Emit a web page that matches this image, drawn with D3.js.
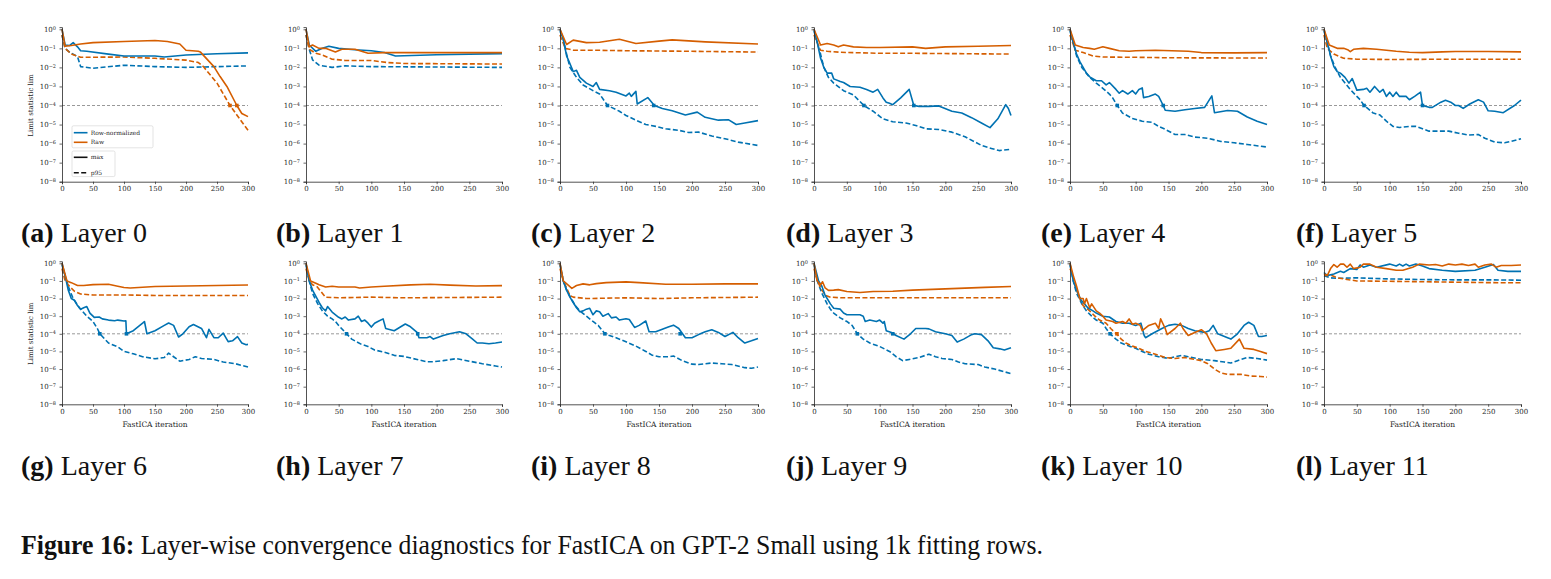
<!DOCTYPE html>
<html>
<head>
<meta charset="utf-8">
<script src="https://cdn.jsdelivr.net/npm/d3@7"></script>
<style>
  body { margin: 0; background: #fff; }
  svg { display: block; }
</style>
</head>
<body>
<svg id="fig" width="1551" height="579"></svg>
<script>
// ---- data ----
var layers = [0, 1, 2, 3, 4, 5, 6, 7, 8, 9, 10, 11];
var panelLetters = ["a", "b", "c", "d", "e", "f", "g", "h", "i", "j", "k", "l"];
var xTicks = [0, 50, 100, 150, 200, 250, 300];
var yTicks = [1, 1e-1, 1e-2, 1e-3, 1e-4, 1e-5, 1e-6, 1e-7, 1e-8];
var threshold = 1e-4;
var seriesNames = ["Row-normalized", "Raw"];
var statNames = ["max", "p95"];

// row-normalized, max statistic  [iteration, value]
var rowMax = [
  [[0,1],[5,0.15],[12,0.14],[18,0.2],[25,0.12],[30,0.075],[40,0.07],[75,0.05],[100,0.04],[150,0.04],[165,0.035],[200,0.045],[250,0.052],[300,0.058]],
  [[0,1],[5,0.15],[15,0.07],[25,0.1],[35,0.13],[50,0.1],[75,0.085],[100,0.075],[120,0.06],[137,0.04],[200,0.046],[300,0.053]],
  [[0,1],[5,0.3],[10,0.04],[15,0.016],[20,0.006],[25,0.007],[30,0.003],[40,0.0015],[50,0.001],[55,0.0016],[60,0.0007],[75,0.0006],[85,0.0005],[100,0.00032],[105,0.00045],[108,0.0003],[115,0.00055],[117,0.00012],[133,0.00026],[143,0.0001],[155,0.00007],[170,0.000053],[190,0.000032],[208,0.000045],[220,0.000024],[240,0.000017],[255,0.000018],[267,0.00001],[280,0.000012],[300,0.000016]],
  [[0,1],[5,0.2],[10,0.03],[12,0.02],[15,0.01],[20,0.005],[27,0.005],[30,0.0025],[40,0.0018],[45,0.0016],[55,0.001],[70,0.0009],[80,0.0007],[90,0.0005],[97,0.0007],[105,0.00025],[110,0.00015],[115,0.00013],[120,0.00011],[132,0.00025],[145,0.0007],[152,0.0001],[160,0.00009],[175,0.00009],[190,0.000095],[210,0.00005],[225,0.00004],[240,0.000023],[255,0.000012],[268,0.0000069],[280,0.00002],[292,0.00011],[296,0.00007],[300,0.00003]],
  [[0,1],[5,0.2],[10,0.05],[15,0.02],[20,0.01],[25,0.005],[30,0.0032],[40,0.002],[48,0.002],[55,0.0012],[60,0.0016],[70,0.0007],[75,0.00044],[80,0.0006],[88,0.0004],[95,0.0006],[100,0.0004],[105,0.0007],[110,0.00084],[112,0.00026],[120,0.0003],[130,0.0004],[135,0.0003],[142,0.0001],[145,0.000056],[160,0.00005],[175,0.00006],[190,0.00007],[205,0.00008],[216,0.00032],[220,0.000042],[240,0.000055],[255,0.00005],[270,0.000025],[285,0.000015],[300,0.00001]],
  [[0,1],[5,0.2],[10,0.04],[15,0.011],[20,0.006],[25,0.005],[32,0.003],[38,0.0015],[43,0.0026],[50,0.00064],[60,0.0007],[65,0.0008],[70,0.0005],[77,0.001],[85,0.0005],[90,0.0007],[95,0.0003],[100,0.0005],[105,0.0003],[110,0.0005],[115,0.0003],[125,0.0003],[130,0.0002],[138,0.0003],[147,0.0005],[150,0.0001],[160,0.00008],[165,0.00008],[178,0.00015],[185,0.00019],[193,0.00015],[200,0.0001],[205,0.0001],[212,0.00007],[222,0.00012],[235,0.0002],[243,0.00015],[250,0.000053],[260,0.00005],[273,0.000042],[290,0.0001],[300,0.00019]],
  [[0,1],[5,0.2],[10,0.031],[15,0.01],[20,0.008],[25,0.004],[30,0.0025],[35,0.003],[40,0.0035],[45,0.0015],[52,0.00086],[60,0.0009],[65,0.0007],[75,0.0006],[85,0.00055],[90,0.0006],[100,0.00053],[103,0.00055],[104,0.0001],[115,0.00015],[130,0.0004],[133,0.0005],[137,0.0001],[150,0.00015],[165,0.0003],[172,0.00041],[180,0.0003],[188,0.000066],[195,0.0001],[205,0.00025],[212,0.00034],[225,0.0002],[233,0.00006],[237,0.00018],[245,0.00006],[252,0.00006],[260,0.00011],[268,0.000036],[275,0.00004],[283,0.000069],[290,0.00003],[297,0.000024],[300,0.000025]],
  [[0,1],[5,0.1],[10,0.03],[17,0.01],[20,0.006],[25,0.003],[30,0.002],[33,0.0035],[40,0.0017],[50,0.00086],[55,0.0007],[60,0.0009],[65,0.0006],[75,0.0007],[80,0.001],[85,0.0005],[90,0.0006],[95,0.0004],[100,0.00024],[105,0.0004],[110,0.0005],[118,0.0007],[122,0.0002],[135,0.00015],[145,0.00025],[152,0.00036],[160,0.00025],[170,0.00012],[173,0.00006],[185,0.00006],[190,0.00007],[195,0.00005],[210,0.00008],[220,0.0001],[235,0.00013],[245,0.0001],[255,0.00005],[262,0.00003],[270,0.00003],[280,0.000027],[290,0.00003],[300,0.000034]],
  [[0,1],[5,0.1],[10,0.03],[15,0.012],[20,0.006],[25,0.003],[30,0.0018],[35,0.002],[40,0.0025],[45,0.0028],[50,0.0012],[55,0.002],[60,0.0018],[65,0.001],[73,0.0014],[78,0.0008],[85,0.0009],[90,0.0006],[100,0.00072],[105,0.00065],[113,0.00023],[120,0.0003],[130,0.00053],[135,0.00013],[145,0.00013],[155,0.00018],[165,0.00025],[172,0.00031],[180,0.0002],[190,0.00006],[200,0.00006],[210,0.00009],[220,0.00013],[230,0.00017],[240,0.00012],[250,0.00007],[262,0.00012],[270,0.00006],[280,0.00003],[290,0.00004],[300,0.000055]],
  [[0,1],[7,0.1],[12,0.05],[17,0.015],[20,0.01],[25,0.005],[30,0.0028],[40,0.0025],[45,0.0015],[50,0.0012],[70,0.0012],[75,0.001],[78,0.0005],[85,0.0006],[95,0.0005],[100,0.0006],[105,0.0004],[107,0.0005],[110,0.00015],[118,0.00012],[125,0.00008],[137,0.00005],[147,0.0001],[155,0.0002],[170,0.0002],[175,0.00019],[185,0.00013],[200,0.0001],[210,0.00008],[218,0.000034],[228,0.00005],[240,0.00009],[245,0.0001],[255,0.00009],[265,0.00004],[273,0.000016],[283,0.000014],[290,0.000012],[300,0.000016]],
  [[0,1],[5,0.1],[12,0.02],[17,0.008],[22,0.005],[27,0.003],[35,0.002],[40,0.0015],[50,0.001],[60,0.0009],[70,0.0005],[80,0.0004],[90,0.0004],[100,0.0003],[108,0.0004],[113,0.00008],[115,0.00006],[125,0.0001],[140,0.0002],[150,0.0003],[160,0.00035],[170,0.0003],[180,0.0002],[190,0.00015],[205,0.00012],[212,0.00015],[218,0.0003],[225,0.0001],[240,0.00006],[245,0.00005],[255,0.0001],[265,0.0003],[272,0.00045],[280,0.0003],[287,0.00007],[292,0.00007],[300,0.00008]],
  [[0,0.3],[5,0.2],[15,0.25],[25,0.35],[30,0.3],[40,0.5],[50,0.45],[55,0.8],[60,0.6],[70,0.8],[80,0.6],[100,0.9],[110,0.7],[115,0.9],[120,0.7],[125,0.9],[130,0.7],[140,0.9],[150,0.7],[160,0.5],[180,0.4],[200,0.35],[230,0.4],[245,0.6],[258,0.85],[265,0.4],[280,0.35],[300,0.35]]
];

// row-normalized, p95 statistic
var rowP95 = [
  [[0,0.5],[5,0.1],[13,0.06],[25,0.037],[30,0.011],[50,0.009],[100,0.013],[150,0.011],[200,0.01],[300,0.012]],
  [[0,0.5],[5,0.09],[10,0.025],[20,0.013],[40,0.01],[60,0.012],[100,0.011],[300,0.01]],
  [[0,0.8],[5,0.3],[10,0.05],[15,0.01],[25,0.003],[35,0.0012],[50,0.0006],[60,0.0004],[72,0.0001],[90,0.00005],[100,0.00003],[115,0.000017],[130,0.00001],[145,0.000008],[160,0.000006],[180,0.000005],[195,0.0000038],[210,0.000004],[230,0.0000025],[250,0.0000018],[270,0.0000012],[300,0.0000008]],
  [[0,0.8],[5,0.2],[10,0.05],[15,0.01],[22,0.003],[30,0.0015],[45,0.0006],[60,0.00036],[76,0.0001],[90,0.00005],[105,0.00002],[120,0.000014],[140,0.000012],[155,0.000009],[170,0.000006],[190,0.0000055],[210,0.000004],[230,0.0000023],[255,0.0000008],[270,0.00000056],[282,0.00000043],[300,0.0000005]],
  [[0,0.8],[5,0.2],[10,0.04],[18,0.01],[30,0.003],[40,0.0015],[50,0.0008],[60,0.0004],[65,0.00025],[72,0.0001],[80,0.00004],[95,0.000021],[110,0.000015],[125,0.000013],[135,0.000008],[145,0.0000056],[160,0.000003],[175,0.000003],[190,0.0000022],[210,0.0000019],[230,0.0000013],[250,0.0000011],[270,0.0000009],[300,0.00000066]],
  [[0,0.8],[5,0.2],[10,0.04],[17,0.01],[25,0.003],[32,0.0015],[40,0.0007],[50,0.0003],[55,0.0002],[61,0.0001],[75,0.00004],[85,0.000032],[95,0.000015],[105,0.000008],[115,0.000007],[130,0.000008],[140,0.000008],[150,0.000006],[160,0.0000045],[180,0.0000045],[190,0.0000045],[205,0.0000035],[220,0.0000028],[235,0.000003],[245,0.0000019],[260,0.0000012],[275,0.0000011],[285,0.0000013],[300,0.0000018]],
  [[0,0.8],[5,0.2],[10,0.05],[18,0.01],[28,0.003],[40,0.001],[50,0.0005],[57,0.0002],[61,0.0001],[75,0.00003],[90,0.000018],[100,0.00001],[115,0.0000073],[130,0.000005],[150,0.0000038],[165,0.0000045],[172,0.000008],[180,0.000005],[190,0.0000028],[205,0.0000035],[215,0.000005],[225,0.000004],[245,0.0000035],[260,0.0000025],[280,0.000002],[300,0.0000013]],
  [[0,0.8],[5,0.1],[10,0.02],[18,0.005],[25,0.002],[33,0.001],[40,0.0007],[45,0.0005],[50,0.0003],[62,0.0001],[70,0.00005],[85,0.000025],[95,0.000019],[105,0.000012],[120,0.000009],[135,0.000006],[150,0.0000052],[170,0.0000035],[185,0.0000026],[195,0.0000026],[210,0.000003],[230,0.0000039],[250,0.0000028],[270,0.000002],[290,0.0000015],[300,0.0000013]],
  [[0,0.8],[5,0.1],[10,0.03],[17,0.01],[23,0.004],[30,0.002],[40,0.001],[50,0.0005],[58,0.0003],[68,0.0001],[75,0.00008],[85,0.00006],[100,0.000035],[115,0.00002],[130,0.00001],[140,0.000006],[150,0.000005],[165,0.000005],[172,0.0000055],[185,0.000003],[200,0.0000019],[210,0.0000018],[230,0.0000022],[245,0.000002],[260,0.0000018],[280,0.0000012],[290,0.0000011],[300,0.0000013]],
  [[0,0.8],[5,0.1],[12,0.02],[20,0.005],[25,0.0025],[30,0.0015],[40,0.0008],[50,0.0005],[58,0.0003],[66,0.0001],[75,0.00005],[85,0.00003],[100,0.000019],[115,0.00001],[125,0.000005],[135,0.000003],[145,0.0000035],[160,0.0000045],[175,0.000007],[185,0.000005],[195,0.000004],[210,0.0000035],[220,0.0000025],[230,0.000002],[250,0.0000018],[260,0.0000013],[275,0.000001],[290,0.0000007],[300,0.00000055]],
  [[0,0.8],[5,0.1],[10,0.02],[18,0.005],[25,0.002],[33,0.001],[40,0.0006],[50,0.0004],[55,0.0002],[61,0.0001],[70,0.00005],[78,0.00003],[90,0.00002],[100,0.000015],[110,0.00001],[120,0.000007],[135,0.000005],[150,0.000004],[160,0.000005],[170,0.000006],[180,0.000005],[200,0.0000035],[220,0.000003],[235,0.0000025],[245,0.0000022],[255,0.000003],[270,0.0000045],[285,0.000004],[300,0.0000032]],
  [[0,0.2],[10,0.15],[20,0.14],[50,0.15],[100,0.13],[150,0.12],[200,0.115],[250,0.115],[300,0.11]]
];

// raw, max statistic
var rawMax = [
  [[0,1],[5,0.13],[15,0.14],[30,0.17],[50,0.2],[100,0.23],[150,0.26],[170,0.23],[190,0.17],[200,0.08],[220,0.07],[223,0.065],[245,0.011],[255,0.0033],[266,0.001],[282,0.0001],[290,0.000038],[300,0.000026]],
  [[0,1],[5,0.12],[10,0.15],[20,0.1],[30,0.1],[45,0.065],[55,0.09],[75,0.09],[95,0.055],[120,0.06],[300,0.06]],
  [[0,1],[10,0.16],[20,0.27],[40,0.2],[60,0.21],[90,0.3],[115,0.18],[150,0.24],[170,0.28],[220,0.22],[300,0.17]],
  [[0,1],[10,0.15],[20,0.18],[30,0.15],[37,0.12],[45,0.15],[60,0.12],[80,0.11],[100,0.11],[150,0.12],[170,0.1],[200,0.12],[250,0.13],[300,0.14]],
  [[0,1],[8,0.15],[20,0.11],[30,0.1],[37,0.09],[50,0.12],[60,0.1],[75,0.075],[90,0.07],[100,0.075],[130,0.08],[180,0.07],[200,0.06],[250,0.058],[300,0.06]],
  [[0,1],[8,0.15],[20,0.1],[30,0.1],[36,0.085],[40,0.067],[45,0.089],[60,0.1],[80,0.09],[110,0.07],[130,0.062],[150,0.06],[180,0.065],[200,0.068],[250,0.068],[300,0.065]],
  [[0,1],[8,0.1],[15,0.08],[25,0.055],[35,0.055],[50,0.062],[75,0.065],[90,0.05],[100,0.042],[110,0.04],[150,0.048],[200,0.052],[250,0.055],[300,0.059]],
  [[0,1],[7,0.1],[15,0.073],[20,0.06],[30,0.045],[40,0.05],[50,0.045],[75,0.045],[82,0.04],[100,0.045],[120,0.05],[160,0.06],[190,0.065],[220,0.058],[260,0.052],[300,0.054]],
  [[0,1],[5,0.1],[12,0.06],[18,0.038],[25,0.055],[35,0.068],[45,0.06],[55,0.07],[70,0.08],[90,0.085],[100,0.088],[120,0.08],[160,0.065],[200,0.065],[250,0.068],[300,0.068]],
  [[0,1],[5,0.1],[10,0.06],[13,0.09],[17,0.04],[22,0.029],[30,0.03],[37,0.032],[50,0.025],[70,0.022],[90,0.025],[120,0.026],[150,0.03],[180,0.033],[220,0.038],[260,0.043],[300,0.048]],
  [[0,1],[5,0.2],[10,0.05],[15,0.01],[20,0.01],[22,0.005],[25,0.01],[30,0.003],[33,0.005],[40,0.002],[45,0.0015],[50,0.001],[55,0.0006],[65,0.0005],[70,0.0004],[80,0.0005],[85,0.0004],[90,0.0007],[95,0.00035],[100,0.0004],[107,0.0003],[110,0.00015],[120,0.0003],[130,0.0004],[135,0.0002],[138,0.0007],[145,0.0002],[148,0.00009],[160,0.0002],[168,0.0004],[172,0.0002],[180,0.00008],[190,0.00012],[200,0.00017],[208,0.0001],[215,0.00003],[222,0.000011],[235,0.000013],[245,0.000015],[258,0.00005],[265,0.000015],[280,0.000013],[290,0.00001],[300,0.0000075]],
  [[0,0.26],[5,0.2],[10,0.5],[15,0.85],[20,0.6],[25,0.9],[30,0.9],[35,0.6],[40,0.9],[45,0.5],[55,0.6],[60,0.9],[70,0.9],[80,0.6],[95,0.5],[110,0.4],[120,0.4],[135,0.6],[145,0.9],[160,0.8],[170,0.85],[180,0.7],[190,0.9],[200,0.8],[210,0.9],[220,0.75],[230,0.9],[235,0.6],[245,0.8],[255,0.9],[262,0.6],[270,0.75],[285,0.75],[300,0.8]]
];

// raw, p95 statistic
var rawP95 = [
  [[0,0.5],[5,0.1],[15,0.05],[30,0.034],[100,0.035],[150,0.03],[200,0.024],[220,0.018],[228,0.011],[250,0.0015],[271,0.0001],[288,0.000017],[300,0.000005]],
  [[0,0.5],[5,0.09],[15,0.055],[25,0.045],[40,0.027],[60,0.023],[100,0.023],[125,0.018],[150,0.016],[300,0.015]],
  [[0,0.5],[8,0.1],[20,0.08],[50,0.08],[100,0.075],[200,0.07],[300,0.064]],
  [[0,0.5],[10,0.08],[20,0.07],[40,0.062],[100,0.055],[150,0.055],[300,0.05]],
  [[0,0.5],[8,0.08],[20,0.06],[35,0.04],[50,0.035],[100,0.034],[150,0.032],[300,0.031]],
  [[0,0.5],[5,0.1],[15,0.05],[30,0.03],[50,0.027],[100,0.026],[200,0.027],[300,0.027]],
  [[0,0.5],[5,0.1],[12,0.05],[20,0.026],[30,0.018],[50,0.016],[100,0.016],[150,0.015],[200,0.015],[300,0.015]],
  [[0,0.5],[5,0.1],[10,0.06],[17,0.047],[25,0.02],[30,0.012],[50,0.011],[100,0.012],[150,0.011],[300,0.012]],
  [[0,0.5],[5,0.1],[10,0.04],[15,0.015],[20,0.012],[40,0.01],[100,0.011],[150,0.01],[200,0.011],[300,0.012]],
  [[0,0.5],[5,0.1],[12,0.03],[18,0.015],[25,0.012],[40,0.011],[100,0.011],[200,0.011],[300,0.011]],
  [[0,0.5],[3,0.3],[8,0.05],[15,0.01],[20,0.004],[30,0.002],[38,0.001],[45,0.0006],[55,0.0004],[62,0.0002],[68,0.00012],[71,0.0001],[78,0.00005],[85,0.00003],[95,0.00002],[105,0.000015],[115,0.00001],[125,0.000008],[135,0.000006],[145,0.0000045],[160,0.000004],[175,0.0000045],[190,0.0000035],[200,0.000003],[210,0.000002],[220,0.000001],[230,0.0000006],[240,0.0000005],[260,0.0000005],[275,0.0000004],[290,0.00000038],[300,0.00000035]],
  [[0,0.2],[10,0.22],[20,0.15],[30,0.13],[50,0.1],[100,0.095],[150,0.09],[200,0.085],[250,0.08],[300,0.078]]
];

// first iteration at which each curve reaches the 1e-4 threshold (marked with a square)
var rowMaxCross = [null, null, 142, 152, 142, 150, 104, 171, 182, 120, null, null];
var rowP95Cross = [null, null, 72, 76, 72, 61, 61, 62, 68, 66, 61, null];
var rawMaxCross = [282, null, null, null, null, null, null, null, null, null, null, null];
var rawP95Cross = [271, null, null, null, null, null, null, null, null, null, 71.5, null];

// ---- layout ----
var blue = "#0072b2", orange = "#d55e00";
var colX = [62, 306, 560, 814, 1070, 1324];
var colW = [186, 196, 198, 197, 197, 197];
var rowTop = [29.3, 263.3], rowBot = [181.7, 404.3];
var capX = [21, 276, 531, 786, 1041, 1296], capY = [242, 475];
var tickFont = "DejaVu Serif";
var capFont = "Liberation Serif";
var capSize = 28;

var svg = d3.select("#fig");

var series = [
  {data: rowMax, cross: rowMaxCross, color: blue, dash: null},
  {data: rowP95, cross: rowP95Cross, color: blue, dash: "5,2.4"},
  {data: rawMax, cross: rawMaxCross, color: orange, dash: null},
  {data: rawP95, cross: rawP95Cross, color: orange, dash: "5,2.4"}
];

layers.forEach(function(layer, i) {
  var r = Math.floor(i / 6), c = i % 6;
  var x = d3.scaleLinear().domain([0, 300]).range([colX[c], colX[c] + colW[c]]);
  var yRef = d3.scaleLog().domain([1e-8, 1]).range([rowBot[r], rowTop[r]]);
  var y = d3.scaleLog().domain([1e-8, 1.3]).range([rowBot[r], yRef(1.3)]);

  var g = svg.append("g").attr("class", "panel");

  // threshold line
  g.append("line")
    .attr("x1", x(0)).attr("x2", x(300))
    .attr("y1", y(threshold)).attr("y2", y(threshold))
    .attr("stroke", "#7f7f7f").attr("stroke-width", 0.8)
    .attr("stroke-dasharray", "3,2");

  var line = d3.line()
    .x(function(d) { return x(d[0]); })
    .y(function(d) { return y(d[1]); });

  // p95 first, max on top
  [1, 3, 0, 2].forEach(function(k) {
    var s = series[k];
    g.append("path")
      .attr("d", line(s.data[i]))
      .attr("fill", "none")
      .attr("stroke", s.color)
      .attr("stroke-width", 1.6)
      .attr("stroke-linejoin", "round")
      .attr("stroke-dasharray", s.dash);
  });

  // threshold-crossing markers
  series.forEach(function(s) {
    if (s.cross[i] == null) return;
    g.append("rect")
      .attr("x", x(s.cross[i]) - 1.8).attr("y", y(threshold) - 1.8)
      .attr("width", 3.6).attr("height", 3.6)
      .attr("fill", s.color);
  });

  // axes
  var xAxis = g.append("g")
    .attr("transform", "translate(0," + rowBot[r] + ")")
    .call(d3.axisBottom(x).tickValues(xTicks).tickSize(2.5).tickPadding(2));
  var yAxis = g.append("g")
    .attr("transform", "translate(" + colX[c] + ",0)")
    .call(d3.axisLeft(y).tickValues(yTicks).tickSize(2.5).tickPadding(3.5));

  [xAxis, yAxis].forEach(function(ax) {
    ax.select(".domain").attr("stroke", "#262626").attr("stroke-width", 0.8);
    ax.selectAll(".tick line").attr("stroke", "#262626").attr("stroke-width", 0.7);
    ax.selectAll(".tick text")
      .attr("font-family", tickFont).attr("font-size", 7).attr("fill", "#262626");
  });

  yAxis.selectAll(".tick text").each(function(d) {
    var e = Math.round(Math.log10(d));
    var t = d3.select(this).text(null);
    t.append("tspan").text("10");
    t.append("tspan").attr("dy", "-0.45em").attr("font-size", 5)
      .text(e < 0 ? "\u2212" + (-e) : String(e));
  });

  if (c === 0) {
    g.append("text")
      .attr("transform", "translate(" + (colX[c] - 29) + "," + ((rowTop[r] + rowBot[r]) / 2) + ") rotate(-90)")
      .attr("text-anchor", "middle")
      .attr("font-family", tickFont).attr("font-size", 7).attr("fill", "#262626")
      .text("Limit statistic lim");
  }
  if (r === 1) {
    g.append("text")
      .attr("x", x(150)).attr("y", rowBot[r] + 22.5)
      .attr("text-anchor", "middle")
      .attr("font-family", tickFont).attr("font-size", 7.5).attr("fill", "#262626")
      .text("FastICA iteration");
  }

  // sub-caption
  var cap = svg.append("text")
    .attr("x", capX[c]).attr("y", capY[r])
    .attr("font-family", capFont).attr("font-size", capSize).attr("fill", "#111");
  cap.append("tspan").attr("font-weight", "bold").text("(" + panelLetters[i] + ")");
  cap.append("tspan").text(" Layer " + layer);
});

// legend in panel (a)
(function() {
  var lx = colX[0] + 10, ly = rowTop[0];
  var lg = svg.append("g").attr("font-family", tickFont).attr("font-size", 6).attr("fill", "#262626");
  lg.append("rect").attr("x", lx).attr("y", ly + 96.5).attr("width", 81).attr("height", 22)
    .attr("rx", 1.5).attr("fill", "#fff").attr("fill-opacity", 0.8).attr("stroke", "#d0d0d0").attr("stroke-width", 0.6);
  [blue, orange].forEach(function(col, k) {
    var yy = ly + 103.4 + k * 9.6;
    lg.append("line").attr("x1", lx + 1.8).attr("x2", lx + 15.5).attr("y1", yy).attr("y2", yy)
      .attr("stroke", col).attr("stroke-width", 1.6);
    lg.append("text").attr("x", lx + 18.7).attr("y", yy + 2.1).text(seriesNames[k]);
  });
  lg.append("rect").attr("x", lx).attr("y", ly + 121.7).attr("width", 43).attr("height", 25.6)
    .attr("rx", 1.5).attr("fill", "#fff").attr("fill-opacity", 0.8).attr("stroke", "#d0d0d0").attr("stroke-width", 0.6);
  [null, "5,2.4"].forEach(function(dash, k) {
    var yy = ly + 128 + k * 15.4;
    lg.append("line").attr("x1", lx + 1.8).attr("x2", lx + 15.5).attr("y1", yy).attr("y2", yy)
      .attr("stroke", "#111").attr("stroke-width", 1.6).attr("stroke-dasharray", dash);
    lg.append("text").attr("x", lx + 18.7).attr("y", yy + 2.1).text(statNames[k]);
  });
})();

// figure caption, squeezed to span the reference width
var fig = svg.append("text").attr("x", 21).attr("y", 554)
  .attr("font-family", capFont).attr("font-size", capSize).attr("fill", "#111")
  .attr("textLength", 1022).attr("lengthAdjust", "spacingAndGlyphs");
fig.append("tspan").attr("font-weight", "bold").text("Figure 16:");
fig.append("tspan").text(" Layer-wise convergence diagnostics for FastICA on GPT-2 Small using 1k fitting rows.");
</script>
</body>
</html>
